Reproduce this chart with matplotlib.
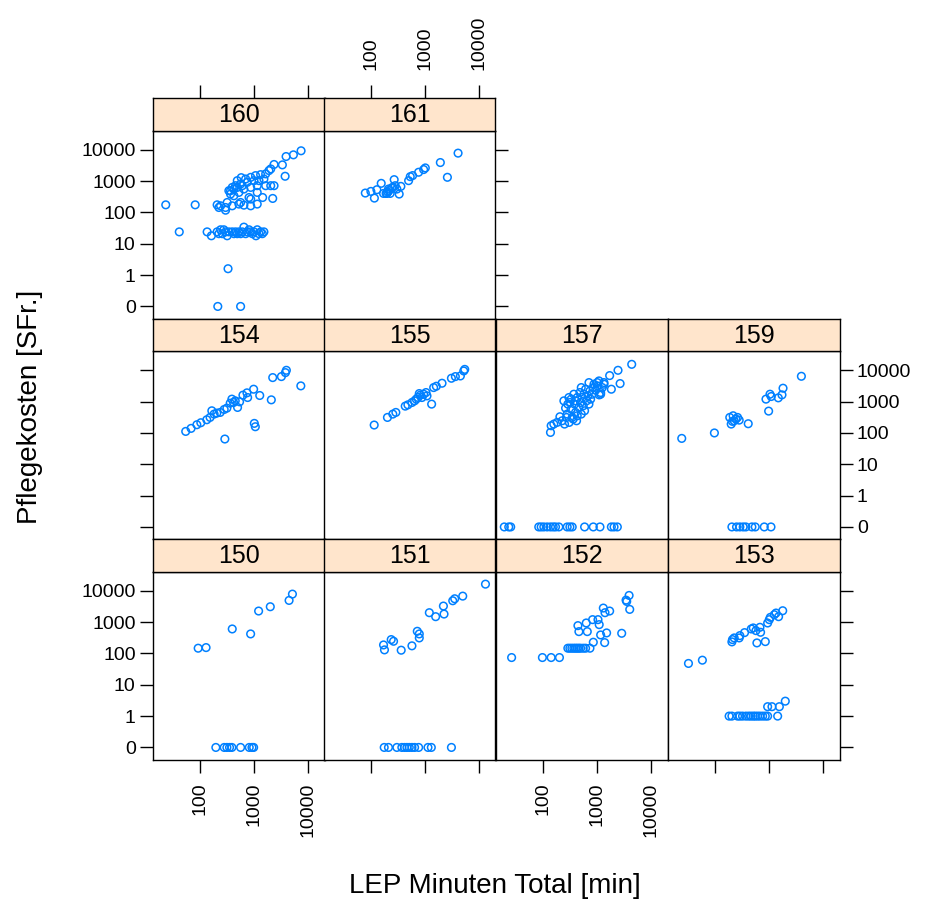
import numpy as np
import matplotlib.pyplot as plt

plt.rcParams['font.family'] = ['Liberation Sans', 'DejaVu Sans']

# ---- data: LEP minutes (x) vs. care costs (y), one pair of lists per unit ----
x_160 = [23, 81, 41, 330, 213, 565, 7500, 5400, 3950, 3370, 2360, 3790, 2230, 1450,
         580, 870, 1070, 1330, 1650, 1900, 2050, 1530, 1000, 750, 565, 455, 395, 342,
         367, 424, 525, 650, 870, 1150, 1650, 2050, 2360, 424, 490, 810, 870, 1150,
         565, 395, 297, 240, 207, 223, 318, 525, 650, 870, 1150, 297, 490, 700, 1240,
         367, 607,
         135, 162, 207, 240, 276, 297, 318, 342, 395, 455, 525, 607, 650, 750, 870,
         1000, 1090, 1150, 1330, 1530, 223, 258, 424, 490, 565, 700, 810, 935, 1240, 1430]
y_160 = [175, 175, 24, 1.6, 0, 0, 9300, 6900, 6100, 3300, 3400, 1430, 280, 300,
         1290, 1320, 1500, 1610, 1700, 2170, 2450, 1170, 1035, 915, 810, 715, 630, 494,
         386, 341, 436, 558, 630, 715, 715, 715, 715, 558, 630, 300, 267, 436,
         208, 163, 144, 163, 175, 144, 208, 185, 171, 163, 185, 118, 1035, 1170, 1035,
         494, 715,
         24, 18, 24, 28, 28, 24, 18, 24, 24, 24, 24, 24, 34, 24, 24,
         24, 18, 28, 24, 24, 21, 21, 21, 21, 21, 21, 28, 21, 21, 21]

x_161 = [78, 99, 115, 128, 154, 170, 196, 210, 226, 250, 268, 280, 301, 332, 357,
         497, 533, 589, 762, 945, 1015, 1930, 2610, 4120, 190, 205, 215, 240]
y_161 = [416, 470, 287, 532, 849, 405, 405, 558, 405, 632, 1114, 715, 558, 386, 680,
         1035, 1390, 1500, 1920, 2340, 2640, 3920, 1325, 7820, 405, 450, 500, 600]

x_154 = [54, 68, 87, 103, 133, 153, 165, 182, 204, 236, 280, 288, 314, 362, 389, 418,
         449, 496, 541, 624, 741, 763, 986, 1015, 1060, 1280, 2100, 2230, 3230, 3840,
         4000, 7420]
y_154 = [112, 140, 183, 212, 264, 313, 510, 400, 430, 452, 562, 64, 620, 893, 1200, 938,
         1060, 652, 986, 1610, 1905, 1352, 2490, 202, 158, 1570, 1140, 5850, 6300, 8430,
         10000, 3180]

x_155 = [114, 201, 253, 288, 430, 482, 573, 642, 741, 818, 880, 945, 1045, 1090, 1330,
         1450, 1625, 2075, 3100, 3670, 4550, 5250, 5480, 690, 784]
y_155 = [179, 313, 400, 452, 718, 791, 938, 1060, 1352, 1607, 1352, 1725, 1950, 1527, 832,
         2810, 3100, 3865, 5570, 6300, 6600, 9530, 10700, 1200, 1810]

x_157 = [4420, 2460, 1720, 2690, 1850, 1170, 880, 1015, 1350,
         137, 141, 158, 182, 205, 226, 250, 261, 280, 301, 314, 332, 347, 372, 384, 400,
         418, 430, 462, 482, 496, 511, 533, 556, 573, 589, 615, 642, 680, 710, 741, 763,
         818, 855, 945, 1015, 1090, 1170, 1255, 1350, 1100, 243, 272, 305, 362, 430, 400,
         332, 288, 511, 710,
         19, 23, 25, 83, 92, 103, 119, 137, 154, 170, 196, 280, 314, 347, 589, 855, 1137,
         1850, 2075, 2390]
y_157 = [15500, 10000, 6780, 3770, 2490, 1725, 3590, 4050, 4050,
         104, 170, 192, 217, 329, 245, 192, 620, 400, 1352, 938, 577, 313, 1725, 832, 452,
         245, 1352, 652, 1950, 938, 400, 1352, 736, 1725, 510, 2490, 1060, 1527, 832, 2200,
         1200, 1725, 2810, 2310, 3180, 4580, 1950, 2810, 3590, 1640, 1060, 313, 217, 277,
         354, 1060, 1200, 832, 2810, 4050,
         0, 0, 0, 0, 0, 0, 0, 0, 0, 0, 0, 0, 0, 0, 0, 0, 0, 0, 0, 0]

x_159 = [24, 97, 187, 216, 199, 226, 243, 261, 280, 210, 412, 880, 986, 1045, 1100, 1490,
         1745, 1825, 4000,
         205, 250, 288, 332, 372, 482, 556, 818, 1090]
y_159 = [67, 100, 313, 354, 192, 245, 277, 313, 257, 234, 197, 1200, 498, 1725, 1455, 1320,
         1645, 2680, 6440,
         0, 0, 0, 0, 0, 0, 0, 0, 0]

x_150 = [92, 129, 395, 867, 1220, 2010, 4490, 5180,
         196, 280, 314, 352, 389, 565, 818, 918, 986]
y_150 = [147, 154, 605, 420, 2260, 3100, 4930, 7840,
         0, 0, 0, 0, 0, 0, 0, 0, 0]

x_151 = [170, 177, 236, 261, 362, 573, 720, 784, 784, 1205, 1580, 2200, 2260, 3280, 3570,
         5030, 13300,
         175, 210, 301, 372, 418, 462, 511, 573, 642, 763, 1137, 1312, 3100]
y_151 = [187, 130, 277, 245, 127, 175, 510, 420, 313, 2000, 1493, 3260, 1810, 4810, 5570,
         6760, 16300,
         0, 0, 0, 0, 0, 0, 0, 0, 0, 0, 0, 0, 0]

x_152 = [26, 97, 141, 201,
         288, 314, 342, 372, 400, 430, 462, 497, 556, 615, 741,
         443, 462, 632, 661, 830, 855, 1045, 1100, 1170, 1312, 1410, 1510, 1390, 1720, 2880,
         3470, 3570, 3950, 4060]
y_152 = [74, 74, 74, 74,
         147, 147, 147, 147, 147, 147, 147, 147, 147, 147, 147,
         773, 498, 940, 498, 1200, 228, 1200, 832, 390, 2810, 2000, 452, 222, 2260, 440,
         5040, 4580, 7110, 2550]

x_153 = [32, 58,
         205, 210, 226, 280, 288, 352, 469, 511, 573, 680, 699, 597, 855, 945, 1015, 1060,
         1255, 1350, 1510, 1800,
         182, 205, 261, 288, 323, 372, 418, 462, 511, 556, 615, 680, 763, 855, 945, 1450,
         945, 1137, 1560, 2010]
y_153 = [48, 61,
         234, 277, 313, 313, 371, 462, 605, 652, 536, 684, 474, 217, 239, 938, 1200, 1420,
         1725, 1950, 1493, 2310,
         1, 1, 1, 1, 1, 1, 1, 1, 1, 1, 1, 1, 1, 1, 1, 1,
         2, 2, 2, 3]

# ---- layout (pixels) ----
W, H = 935, 906
col_left = [153, 324, 496, 668]
col_w = 171.5
row_top = [98, 318.5, 539]
strip_h = 33
panel_h = 187.5
xlim = (10 ** 1.125, 10 ** 4.31)
ylim = (10 ** -1.385, 10 ** 4.6)
blue = '#0080ff'
strip_col = '#ffe5cc'

xticks = [100, 1000, 10000]
xticklabels = ['100', '1000', '10000']
yticks = [0.1, 1, 10, 100, 1000, 10000]
yticklabels = ['0', '1', '10', '100', '1000', '10000']

tick_len = 9.5
tick_fs = 14

fig = plt.figure(figsize=(W / 100, H / 100), dpi=100)


def px_axes(x0, y0, w, h):
    return fig.add_axes([x0 / W, 1 - (y0 + h) / H, w / W, h / H])


def all_off(ax):
    ax.tick_params(which='both', direction='out', length=tick_len, width=1,
                   labelsize=tick_fs, top=False, bottom=False, left=False, right=False,
                   labeltop=False, labelbottom=False, labelleft=False, labelright=False)
    ax.tick_params(axis='x', pad=7)
    ax.tick_params(axis='y', pad=3)


def set_x(ax):
    ax.set_xscale('log')
    ax.set_xlim(*xlim)
    ax.set_xticks(xticks)
    ax.set_xticklabels(xticklabels, rotation=90)
    ax.xaxis.set_minor_locator(plt.NullLocator())
    for s in ax.spines.values():
        s.set_linewidth(1.0)


# name, xs, ys, col, row, tick settings for the panel, tick settings for the strip
panels = [
    ('160', x_160, y_160, 0, 0, dict(left=True, labelleft=True), dict(top=True)),
    ('161', x_161, y_161, 1, 0, dict(right=True), dict(top=True, labeltop=True, pad=11)),
    ('154', x_154, y_154, 0, 1, dict(left=True), {}),
    ('155', x_155, y_155, 1, 1, {}, {}),
    ('157', x_157, y_157, 2, 1, {}, {}),
    ('159', x_159, y_159, 3, 1, dict(right=True, labelright=True), {}),
    ('150', x_150, y_150, 0, 2, dict(left=True, labelleft=True, bottom=True, labelbottom=True), {}),
    ('151', x_151, y_151, 1, 2, dict(bottom=True), {}),
    ('152', x_152, y_152, 2, 2, dict(bottom=True, labelbottom=True), {}),
    ('153', x_153, y_153, 3, 2, dict(bottom=True, right=True), {}),
]

for name, xs, ys, col, row, pt, st in panels:
    x0 = col_left[col]
    y0 = row_top[row]
    ax = px_axes(x0, y0 + strip_h, col_w, panel_h)
    yv = np.array(ys, dtype=float)
    yv = np.where(yv > 0, yv, 0.1)   # zero costs drawn on the "0" line
    ax.scatter(xs, yv, s=30, facecolors='none', edgecolors=blue, linewidths=1.1)
    set_x(ax)
    ax.set_yscale('log')
    ax.set_ylim(*ylim)
    ax.set_yticks(yticks)
    ax.set_yticklabels(yticklabels)
    ax.yaxis.set_minor_locator(plt.NullLocator())
    all_off(ax)
    ax.tick_params(**pt)

    sax = px_axes(x0, y0, col_w, strip_h)
    sax.set_facecolor(strip_col)
    set_x(sax)
    sax.set_yticks([])
    all_off(sax)
    sax.tick_params(axis='x', **st)
    sax.text(0.5, 0.48, name, transform=sax.transAxes, ha='center', va='center',
             fontsize=18)

fig.text(495 / W, 1 - 886 / H, 'LEP Minuten Total [min]', ha='center', va='center',
         fontsize=20)
fig.text(30 / W, 1 - 407 / H, 'Pflegekosten [SFr.]', ha='center', va='center',
         rotation=90, fontsize=20)

fig.savefig('out.png', dpi=100)
